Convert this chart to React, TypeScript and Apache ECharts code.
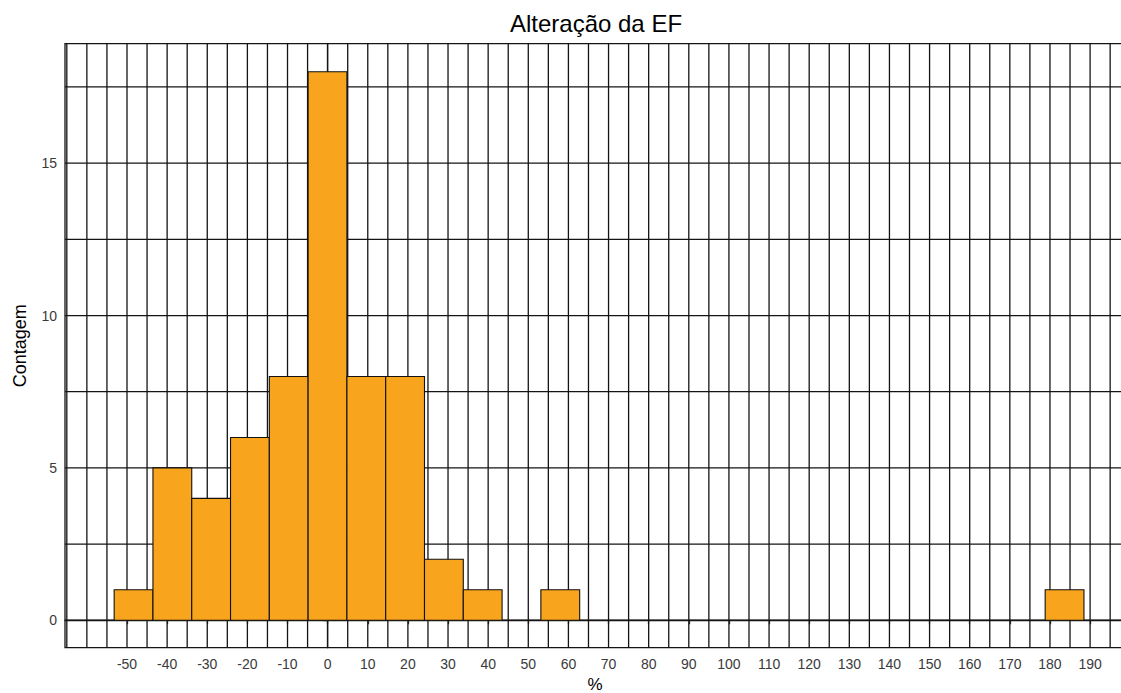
import React, { useEffect, useRef } from "react";
import * as echarts from "echarts";

// Histogram structure
const binStart = -53.2;
const binWidth = 9.667;
const counts = [1, 5, 4, 6, 8, 18, 8, 8, 2, 1, 0, 1, 0, 0, 0, 0, 0, 0, 0, 0, 0, 0, 0, 0, 1];

// Axis ticks
const xTickLabels = [-50, -40, -30, -20, -10, 0, 10, 20, 30, 40, 50, 60, 70, 80, 90, 100, 110, 120, 130, 140, 150, 160, 170, 180, 190];
const yTickLabels = [0, 5, 10, 15];
const xGridLines = [-65, -60, -55, -50, -45, -40, -35, -30, -25, -20, -15, -10, -5, 0, 5, 10, 15, 20, 25, 30, 35, 40, 45, 50, 55, 60, 65, 70, 75, 80, 85, 90, 95, 100, 105, 110, 115, 120, 125, 130, 135, 140, 145, 150, 155, 160, 165, 170, 175, 180, 185, 190, 195];
const yGridLines = [0, 2.5, 5, 7.5, 10, 12.5, 15, 17.5];

const xMin = -65.45;
const xMax = 198.7;
const yMin = -0.9;
const yMax = 18.92;

const FONT = "Liberation Sans, Arial, sans-serif";
const GRID_COLOR = "#141414";

export default function App() {
  const ref = useRef<HTMLDivElement>(null);

  useEffect(() => {
    if (!ref.current) return;
    const chart = echarts.init(ref.current, null, { renderer: "svg" });

    const bars = counts.map((c, i) => [binStart + i * binWidth, binStart + (i + 1) * binWidth, c]);

    chart.setOption({
      animation: false,
      backgroundColor: "#ffffff",
      textStyle: { fontFamily: FONT },
      graphic: [
        {
          type: "text",
          x: 596,
          y: 23,
          style: {
            text: "Alteração da EF",
            fontSize: 24,
            fontFamily: FONT,
            fill: "#000",
            textAlign: "center",
            textVerticalAlign: "middle",
          },
        },
      ],
      grid: {
        left: 65,
        top: 43.7,
        bottom: 45.3,
        right: -4,
        outerBoundsMode: "none",
        containLabel: false,
        show: true,
        borderColor: GRID_COLOR,
        borderWidth: 1.3,
        backgroundColor: "transparent",
      },
      xAxis: {
        type: "value",
        min: xMin,
        max: xMax,
        name: "%",
        nameLocation: "middle",
        nameGap: 28,
        nameMoveOverlap: false,
        nameTextStyle: { fontSize: 17, color: "#000", fontFamily: FONT, verticalAlign: "top" },
        axisLine: { show: true, lineStyle: { color: GRID_COLOR, width: 1.3 } },
        axisTick: {
          show: true,
          customValues: xTickLabels,
          length: 4,
          lineStyle: { color: "#333", width: 1.3 },
        },
        axisLabel: {
          customValues: xTickLabels,
          fontSize: 14,
          color: "#3a3a3a",
          margin: 9,
          fontFamily: FONT,
        },
        splitLine: { show: false },
      },
      yAxis: {
        type: "value",
        min: yMin,
        max: yMax,
        name: "Contagem",
        nameLocation: "middle",
        nameGap: 36,
        nameTextStyle: { fontSize: 18, color: "#000", fontFamily: FONT },
        axisLine: { show: true, lineStyle: { color: GRID_COLOR, width: 1.3 } },
        axisTick: {
          show: true,
          customValues: yTickLabels,
          length: 5,
          lineStyle: { color: "#333", width: 1.3 },
        },
        axisLabel: {
          customValues: yTickLabels,
          fontSize: 14,
          color: "#3a3a3a",
          margin: 8,
          fontFamily: FONT,
        },
        splitLine: { show: false },
      },
      series: [
        {
          type: "custom",
          name: "vgrid",
          silent: true,
          z: 1,
          data: xGridLines.map((v) => [v, 0]),
          encode: { x: 0, y: 1 },
          renderItem: (params: any, api: any) => {
            const x = api.coord([api.value(0), 0])[0];
            const cs = params.coordSys;
            return {
              type: "line",
              shape: { x1: x, y1: cs.y, x2: x, y2: cs.y + cs.height },
              style: { stroke: GRID_COLOR, lineWidth: 1.3 },
            };
          },
        },
        {
          type: "custom",
          name: "hgrid",
          silent: true,
          z: 1,
          data: yGridLines.map((v) => [0, v]),
          encode: { x: 0, y: 1 },
          renderItem: (params: any, api: any) => {
            const y = api.coord([0, api.value(1)])[1];
            const cs = params.coordSys;
            return {
              type: "line",
              shape: { x1: cs.x, y1: y, x2: cs.x + cs.width, y2: y },
              style: { stroke: GRID_COLOR, lineWidth: 1.3 },
            };
          },
        },
        {
          type: "custom",
          name: "Contagem",
          z: 3,
          data: bars,
          encode: { x: [0, 1], y: 2 },
          renderItem: (params: any, api: any) => {
            const c = api.value(2);
            if (!c) return null;
            const p0 = api.coord([api.value(0), c]);
            const p1 = api.coord([api.value(1), 0]);
            return {
              type: "rect",
              shape: { x: p0[0], y: p0[1], width: p1[0] - p0[0], height: p1[1] - p0[1] },
              style: { fill: "#F8A51D", stroke: "#111", lineWidth: 1.1 },
            };
          },
        },
      ],
    });

    return () => chart.dispose();
  }, []);

  return (
    <div
      ref={ref}
      style={{ position: "absolute", left: 0, top: 0, width: 1121, height: 693, background: "#fff" }}
    />
  );
}
